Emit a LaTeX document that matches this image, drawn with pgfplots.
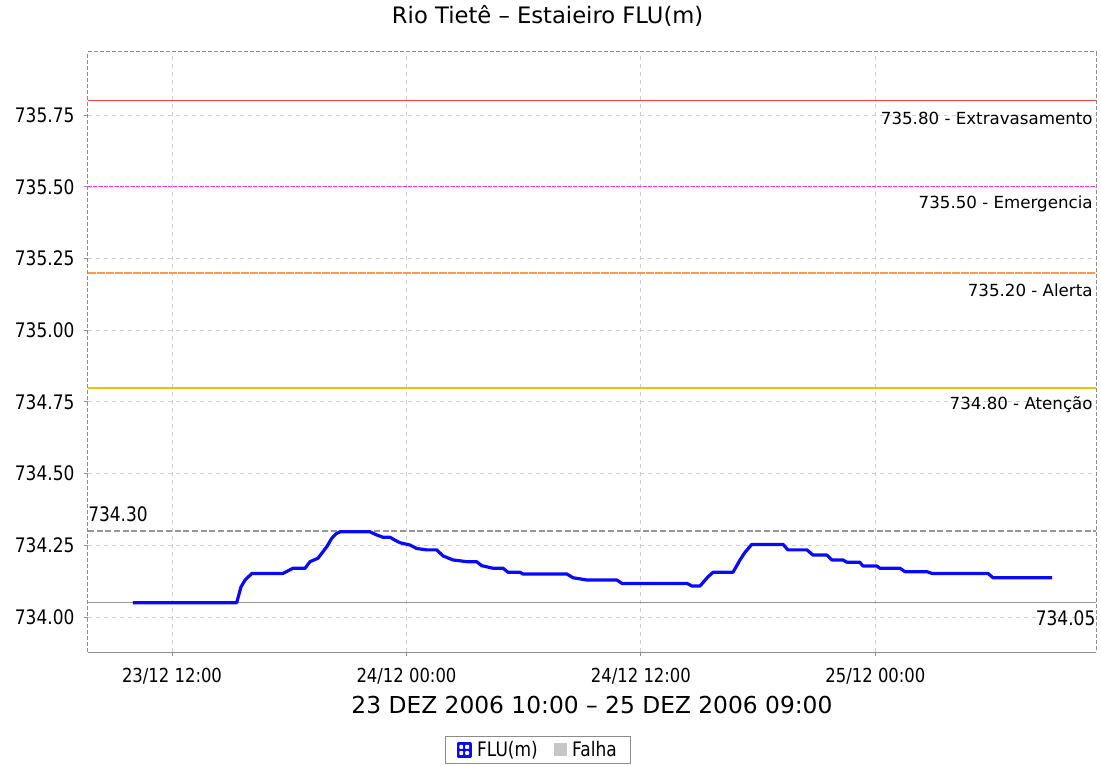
\documentclass[border=0pt]{standalone}
\usepackage{fontspec}
\setmainfont{DejaVu Sans}[FakeStretch=0.85]
\newfontfamily\plainfont{DejaVu Sans}
\usepackage{pgfplots}
\pgfplotsset{compat=1.18}
\definecolor{serie}{RGB}{10,10,250}
\definecolor{extrav}{RGB}{255,60,60}
\definecolor{emerg}{RGB}{255,40,255}
\definecolor{alerta}{RGB}{255,155,70}
\definecolor{yellowline}{RGB}{240,195,0}
\definecolor{gridc}{RGB}{205,205,205}
\definecolor{framec}{RGB}{140,140,140}
\definecolor{refc}{RGB}{150,150,150}
\begin{document}
\begin{tikzpicture}
\useasboundingbox (-66pt,-84.75pt) rectangle (759.75pt,489pt);
\begin{axis}[
  at={(0pt,0pt)}, anchor=south west,
  scale only axis, width=756pt, height=450pt,
  xmin=7.70, xmax=59.29, ymin=733.878, ymax=735.97,
  clip=false,
  axis line style={draw=none},
  /pgf/number format/assume math mode=true,
  xtick={12,24,36,48},
  xticklabels={23/12 12:00, 24/12 00:00, 24/12 12:00, 25/12 00:00},
  ytick={734,734.25,734.5,734.75,735,735.25,735.5,735.75},
  yticklabel style={/pgf/number format/fixed, /pgf/number format/fixed zerofill, /pgf/number format/precision=2, font=\fontsize{15}{18}\selectfont, inner sep=0pt, xshift=-7pt},
  xticklabel style={font=\fontsize{14.5}{18}\selectfont, inner sep=0pt, yshift=-9pt},
  grid=major,
  major grid style={gridc, line width=0.75pt, dash pattern=on 3pt off 3pt},
  tick align=outside, major tick length=3pt,
  tick style={framec, line width=0.75pt},
  xtick pos=bottom, ytick pos=left,
  title={Rio Tietê – Estaieiro FLU(m)},
  title style={font=\plainfont\fontsize{17}{20}\selectfont, at={(axis description cs:0.456,1)}, anchor=center, yshift=21pt},
  xlabel={23 DEZ 2006 10:00 – 25 DEZ 2006 09:00},
  xlabel style={font=\plainfont\fontsize{17.5}{20}\selectfont, at={(axis description cs:0.5,0)}, anchor=center, yshift=-39.75pt},
  legend style={at={(axis description cs:0.4464,-0.1633)}, anchor=center, draw=framec, line width=0.75pt, font=\fontsize{15}{17}\selectfont, inner xsep=8pt, inner ysep=2pt, /tikz/every odd column/.append style={column sep=2pt}, /tikz/every even column/.append style={column sep=10pt}},
  legend columns=2,
]
% frame
\draw[framec, line width=0.75pt, dash pattern=on 3pt off 1.5pt] (rel axis cs:0,0) -- (rel axis cs:0,1) -- (rel axis cs:1,1) -- (rel axis cs:1,0);
\draw[framec, line width=0.75pt] (rel axis cs:0,0) -- (rel axis cs:1,0);
% reference lines
\addplot[extrav, line width=0.9pt, forget plot] coordinates {(7.70,735.80) (59.29,735.80)};
\addplot[emerg, line width=0.9pt, dash pattern=on 3pt off 1pt, forget plot] coordinates {(7.70,735.50) (59.29,735.50)};
\addplot[alerta, line width=1pt, dash pattern=on 6pt off 0.75pt, forget plot] coordinates {(7.70,735.20) (59.29,735.20)};
\addplot[yellowline, line width=1.5pt, forget plot] coordinates {(7.70,734.80) (59.29,734.80)};
\addplot[refc, line width=0.9pt, dash pattern=on 4.5pt off 2pt, forget plot] coordinates {(7.70,734.30) (59.29,734.30)};
\addplot[refc, line width=0.9pt, forget plot] coordinates {(7.70,734.05) (59.29,734.05)};
\node[anchor=east, inner sep=0pt, font=\plainfont\fontsize{12.5}{14}\selectfont] at (axis cs:59.13,735.80) [yshift=-13pt] {735.80 - Extravasamento};
\node[anchor=east, inner sep=0pt, font=\plainfont\fontsize{12.5}{14}\selectfont] at (axis cs:59.13,735.50) [yshift=-13pt] {735.50 - Emergencia};
\node[anchor=east, inner sep=0pt, font=\plainfont\fontsize{12.5}{14}\selectfont] at (axis cs:59.13,735.20) [yshift=-13pt] {735.20 - Alerta};
\node[anchor=east, inner sep=0pt, font=\plainfont\fontsize{12.5}{14}\selectfont] at (axis cs:59.13,734.80) [yshift=-13pt] {734.80 - Atenção};
\node[anchor=west, inner sep=0pt, font=\fontsize{15}{18}\selectfont] at (axis cs:7.70,734.30) [yshift=12.5pt] {734.30};
\node[anchor=east, inner sep=0pt, font=\fontsize{15}{18}\selectfont] at (axis cs:59.27,734.05) [yshift=-11.5pt] {734.05};
% data
\addplot[serie, line width=2.4pt, line join=round,
  legend image code/.code={\fill[serie] (0pt,-4.5pt) rectangle (9pt,4.5pt);
    \fill[white] (2.3pt,-2.3pt) circle (0.6pt) (6.7pt,-2.3pt) circle (0.6pt) (2.3pt,2.3pt) circle (0.6pt) (6.7pt,2.3pt) circle (0.6pt);}]
coordinates {
(10.00,734.050) (15.31,734.050) (15.53,734.105) (15.74,734.129) (16.09,734.152)
(17.68,734.152) (18.19,734.170) (18.81,734.170) (19.06,734.193) (19.47,734.205)
(19.92,734.245) (20.17,734.274) (20.39,734.290) (20.60,734.297) (22.13,734.297)
(22.48,734.286) (22.80,734.278) (23.16,734.278) (23.41,734.268) (23.67,734.259)
(24.18,734.251) (24.52,734.239) (25.03,734.234) (25.55,734.234) (25.87,734.213)
(26.38,734.199) (27.08,734.193) (27.59,734.193) (27.85,734.179) (28.43,734.170)
(28.94,734.170) (29.20,734.156) (29.81,734.156) (29.96,734.150) (32.21,734.150)
(32.52,734.137) (33.24,734.129) (34.77,734.129) (35.03,734.117) (38.36,734.117)
(38.61,734.108) (39.02,734.108) (39.43,734.140) (39.69,734.156) (40.71,734.156)
(41.07,734.199) (41.32,734.225) (41.67,734.253) (43.28,734.253) (43.52,734.234)
(44.50,734.234) (44.80,734.216) (45.52,734.216) (45.77,734.199) (46.34,734.199)
(46.54,734.191) (47.20,734.191) (47.36,734.178) (48.07,734.178) (48.23,734.170)
(49.26,734.170) (49.51,734.158) (50.64,734.158) (50.89,734.152) (53.76,734.152)
(54.02,734.137) (57.04,734.137)
};
\addlegendentry{FLU(m)}
\addlegendimage{legend image code/.code={\fill[gray!45] (0pt,-4.5pt) rectangle (9pt,4.5pt);}}
\addlegendentry{Falha}
\end{axis}
\end{tikzpicture}
\end{document}
